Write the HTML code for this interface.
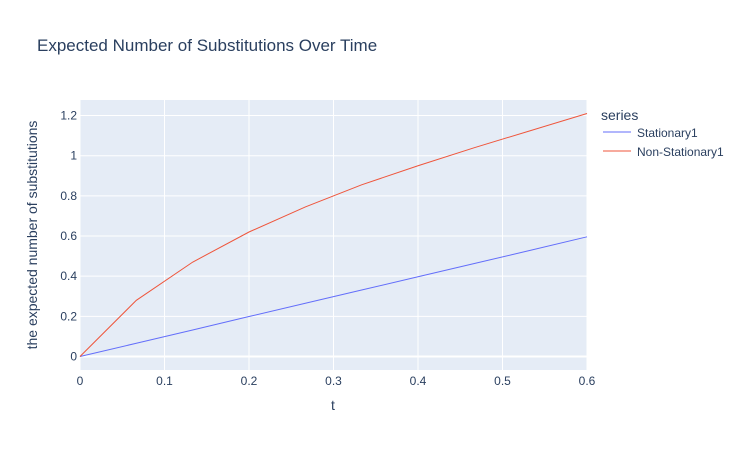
<!DOCTYPE html>
<html><head><meta charset="utf-8"><style>
body{margin:0;background:#fff;font-family:"Liberation Sans",sans-serif;}
svg text{font-family:"Liberation Sans",sans-serif;fill:#2a3f5f;}
</style></head><body>
<svg width="753" height="450">
<rect width="753" height="450" fill="#fff"/>
<text x="37" y="51" font-size="17">Expected Number of Substitutions Over Time</text>
<rect x="80" y="100" width="507" height="270" fill="#e5ecf6"/>
<g id="grid"></g>
<g id="series"></g>
<text x="333" y="410" font-size="14" text-anchor="middle">t</text>
<text transform="translate(37,235) rotate(-90)" font-size="14" text-anchor="middle">the expected number of substitutions</text>
<g>
<text x="601" y="120" font-size="14">series</text>
<g><line x1="603" y1="132" x2="631" y2="132" stroke="#636efa" stroke-width="1"/><text x="637" y="137" font-size="12">Stationary1</text></g>
<g><line x1="603" y1="151" x2="631" y2="151" stroke="#ef553b" stroke-width="1"/><text x="637" y="156" font-size="12">Non-Stationary1</text></g>
</g>
</svg>
<script>
const tValues=[0,0.0667,0.1333,0.2,0.2667,0.3333,0.4,0.4667,0.5333,0.6];
const stationary=[0,0.066,0.132,0.199,0.265,0.331,0.397,0.463,0.529,0.596];
const nonStationary=[0,0.28,0.47,0.62,0.745,0.855,0.95,1.04,1.125,1.21];
const xTicks=[0,0.1,0.2,0.3,0.4,0.5,0.6];
const yTicks=[0,0.2,0.4,0.6,0.8,1,1.2];
const xs=v=>80+v*845;
const ys=v=>356.5-v*200.8;
const NS="http://www.w3.org/2000/svg";
const grid=document.getElementById('grid'),ser=document.getElementById('series');
function mk(tag,attrs,parent){const e=document.createElementNS(NS,tag);for(const k in attrs)e.setAttribute(k,attrs[k]);parent.appendChild(e);return e;}
xTicks.forEach(v=>{
 const l=mk('line',{x1:xs(v),x2:xs(v),y1:100,y2:370,stroke:'#fff','stroke-width':1},grid);
 
 
 const t=mk('text',{x:xs(v),y:385,'font-size':12,'text-anchor':'middle'},grid);t.textContent=v;
 
 
});
yTicks.forEach(v=>{
 const l=mk('line',{x1:80,x2:587,y1:ys(v),y2:ys(v),stroke:'#fff','stroke-width':v===0?2:1},grid);
 
 
 const t=mk('text',{x:77,y:ys(v)+4,'font-size':12,'text-anchor':'end'},grid);t.textContent=v;
 
 
});
function line(vals,color,name){
 const p=mk('polyline',{points:tValues.map((t,i)=>xs(t)+','+ys(vals[i])).join(' '),fill:'none',stroke:color,'stroke-width':1},ser);
 
 
}
line(stationary,'#636efa','line-stationary1');
line(nonStationary,'#ef553b','line-non-stationary1');
</script>
</body></html>
